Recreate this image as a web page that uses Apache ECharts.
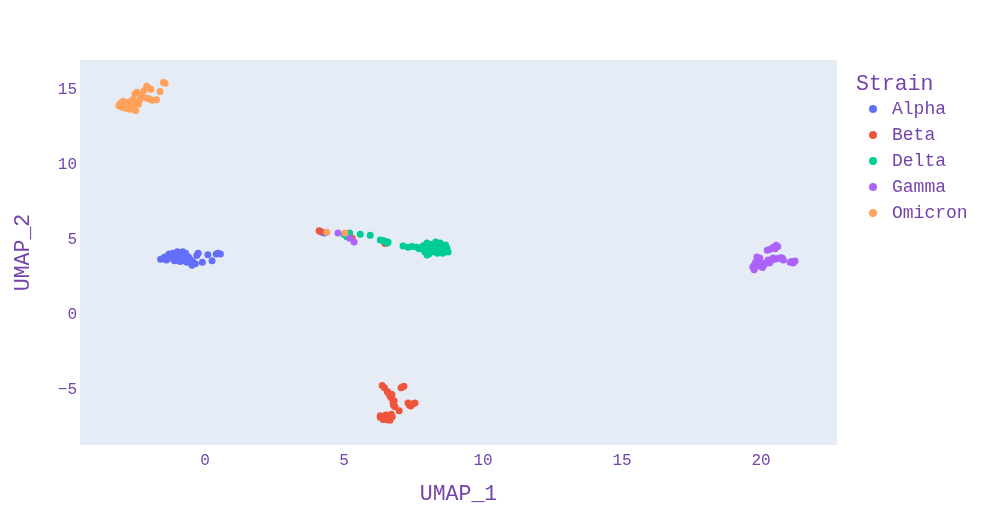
<!DOCTYPE html>
<html>
<head>
<meta charset="utf-8">
<script src="https://cdn.jsdelivr.net/npm/echarts@6/dist/echarts.min.js"></script>
<style>
  html, body { margin: 0; padding: 0; background: #fff; }
  #main { width: 985px; height: 525px; }
</style>
</head>
<body>
<div id="main"></div>
<script>
// UMAP coordinates per strain, [UMAP_1, UMAP_2]
var strains = ['Alpha', 'Beta', 'Delta', 'Gamma', 'Omicron']
var colors = ['#636efa', '#EF553B', '#00cc96', '#ab63fa', '#FFA15A']

var alpha = [
  [-1.6, 3.7], [-1.5, 3.75], [-1.45, 3.85], [-1.35, 3.7], [-1.3, 3.9], [-1.25, 4.0], [-1.2, 3.8],
  [-1.15, 4.1], [-1.1, 3.95], [-1.05, 3.75], [-1.0, 4.2], [-0.95, 4.0], [-0.9, 3.85], [-0.85, 4.15],
  [-0.8, 3.6], [-0.75, 3.95], [-0.7, 4.1], [-0.65, 3.5], [-0.6, 3.85], [-0.55, 3.7], [-0.5, 3.45],
  [-0.45, 3.55], [-1.4, 3.65], [-1.1, 3.6], [-0.9, 3.55], [-1.3, 4.05], [-0.8, 4.2], [-0.25, 4.1],
  [-0.3, 3.95], [0.1, 4.0], [0.47, 4.1], [0.4, 4.05], [0.55, 4.05], [0.25, 3.6], [-0.1, 3.5],
  [-0.47, 3.3], [-0.35, 3.4], [4.2, 5.5], [4.3, 5.45]
]
var beta = [
  [4.14, 5.57], [4.1, 5.6], [5.29, 5.1], [6.47, 4.75],
  [6.37, -4.7], [6.45, -4.85], [6.55, -5.1], [6.6, -5.2], [6.65, -5.4], [6.7, -5.5], [6.72, -5.3],
  [7.05, -4.85], [7.1, -4.8], [7.15, -4.75], [6.76, -5.85], [6.8, -5.7], [6.83, -6.1], [6.78, -6.0],
  [6.98, -6.37], [7.3, -5.85], [7.35, -6.0], [7.4, -6.05], [7.48, -5.9], [7.55, -5.85], [6.3, -6.8],
  [6.37, -6.77], [6.45, -6.9], [6.55, -6.97], [6.6, -6.85], [6.65, -7.0], [6.73, -6.77], [6.7, -6.6],
  [6.5, -6.65], [6.4, -6.95], [6.3, -6.7]
]
var delta = [
  [5.0, 5.35], [5.1, 5.2], [5.2, 5.44], [5.58, 5.37], [5.94, 5.3], [6.3, 4.98], [6.4, 4.95],
  [6.47, 4.9], [6.58, 4.84], [6.55, 4.78], [7.12, 4.58], [7.3, 4.5], [7.45, 4.55], [7.62, 4.5],
  [7.7, 4.4], [7.85, 4.6], [7.98, 4.78], [8.0, 4.3], [8.1, 4.5], [8.2, 4.44], [8.3, 4.6],
  [8.35, 4.1], [8.45, 4.78], [8.5, 4.5], [8.6, 4.35], [8.7, 4.44], [8.74, 4.18], [8.65, 4.65],
  [7.98, 3.98], [8.05, 4.05], [8.2, 4.2], [8.45, 4.18], [8.55, 4.1], [8.3, 4.85], [8.15, 4.7],
  [7.9, 4.2], [8.4, 4.35]
]
var gamma = [
  [4.78, 5.44], [5.2, 5.1], [5.36, 4.84],
  [19.7, 3.18], [19.75, 3.3], [19.8, 3.5], [19.86, 3.5], [19.9, 3.25], [19.95, 3.78], [19.96, 3.6],
  [20.0, 3.4], [20.05, 3.15], [19.85, 3.85], [20.1, 3.3], [20.2, 3.5], [20.25, 3.65], [20.3, 3.45],
  [20.35, 3.6], [20.43, 3.78], [20.5, 3.7], [20.6, 3.75], [20.7, 3.8], [20.76, 3.78], [20.8, 3.65],
  [20.22, 4.3], [20.3, 4.35], [20.43, 4.5], [20.5, 4.4], [20.54, 4.64], [20.6, 4.55], [21.04, 3.5],
  [21.1, 3.55], [21.22, 3.58], [21.15, 3.45], [19.75, 3.0]
]
var omicron = [
  [4.38, 5.5], [5.03, 5.44],
  [-1.44, 15.4], [-1.5, 15.45], [-1.62, 14.86], [-2.05, 15.1], [-2.1, 15.2], [-1.95, 15.0],
  [-2.2, 14.9], [-2.52, 14.7], [-2.45, 14.8], [-2.3, 14.6], [-2.27, 14.5], [-2.1, 14.4],
  [-1.9, 14.27], [-2.0, 14.35], [-2.6, 14.3], [-2.88, 14.07], [-2.95, 14.2], [-2.8, 13.95],
  [-2.99, 13.8], [-3.1, 13.9], [-2.7, 13.67], [-2.5, 13.6], [-2.6, 13.8], [-2.4, 14.0],
  [-2.55, 14.1], [-2.75, 14.15], [-3.05, 14.05], [-2.85, 13.75], [-1.75, 14.3], [-2.35, 14.3]
]
var seriesData = [alpha, beta, delta, gamma, omicron]

var textColor = '#7444ab'
var font = '"Liberation Mono", "DejaVu Sans Mono", monospace'

// only label the multiples of 5
function fiveLabel (v) {
  var r = Math.round(v / 5) * 5
  if (Math.abs(v - r) > 1e-6) return ''
  return r < 0 ? '\u2212' + Math.abs(r) : String(r)
}

var chartDom = document.getElementById('main')
var myChart = echarts.init(chartDom)
var option

option = {
  backgroundColor: '#fff',
  animation: false,
  title: {
    text: 'Strain',
    left: 851,
    top: 68,
    textStyle: { fontFamily: font, fontSize: 21.5, fontWeight: 'normal', color: textColor }
  },
  legend: {
    orient: 'vertical',
    left: 864,
    top: 95,
    icon: 'circle',
    itemWidth: 8,
    itemHeight: 8,
    itemGap: 8,
    textStyle: { fontFamily: font, fontSize: 18, color: textColor, lineHeight: 16, padding: [0, 0, 0, 10] },
    data: strains
  },
  grid: {
    left: 80,
    top: 60,
    right: 148,
    bottom: 80,
    show: true,
    backgroundColor: '#E5ECF6',
    borderWidth: 0
  },
  xAxis: {
    type: 'value',
    min: -4.5,
    max: 22.73,
    interval: 0.05,
    name: 'UMAP_1',
    nameLocation: 'middle',
    nameGap: 38,
    nameTextStyle: { fontFamily: font, fontSize: 21.5, color: textColor },
    axisLine: { show: false },
    axisTick: { show: false },
    splitLine: { show: false },
    axisLabel: { formatter: fiveLabel, fontFamily: font, fontSize: 16, color: textColor, margin: 8 }
  },
  yAxis: {
    type: 'value',
    min: -8.65,
    max: 16.95,
    interval: 0.05,
    name: 'UMAP_2',
    nameLocation: 'middle',
    nameGap: 46,
    nameTextStyle: { fontFamily: font, fontSize: 21.5, color: textColor },
    axisLine: { show: false },
    axisTick: { show: false },
    splitLine: { show: false },
    axisLabel: { formatter: fiveLabel, fontFamily: font, fontSize: 16, color: textColor, margin: 3 }
  },
  series: strains.map(function (s, i) {
    return {
      name: s,
      type: 'scatter',
      symbolSize: 7,
      itemStyle: { color: colors[i], opacity: 1 },
      data: seriesData[i]
    }
  })
}

option && myChart.setOption(option)
</script>
</body>
</html>
